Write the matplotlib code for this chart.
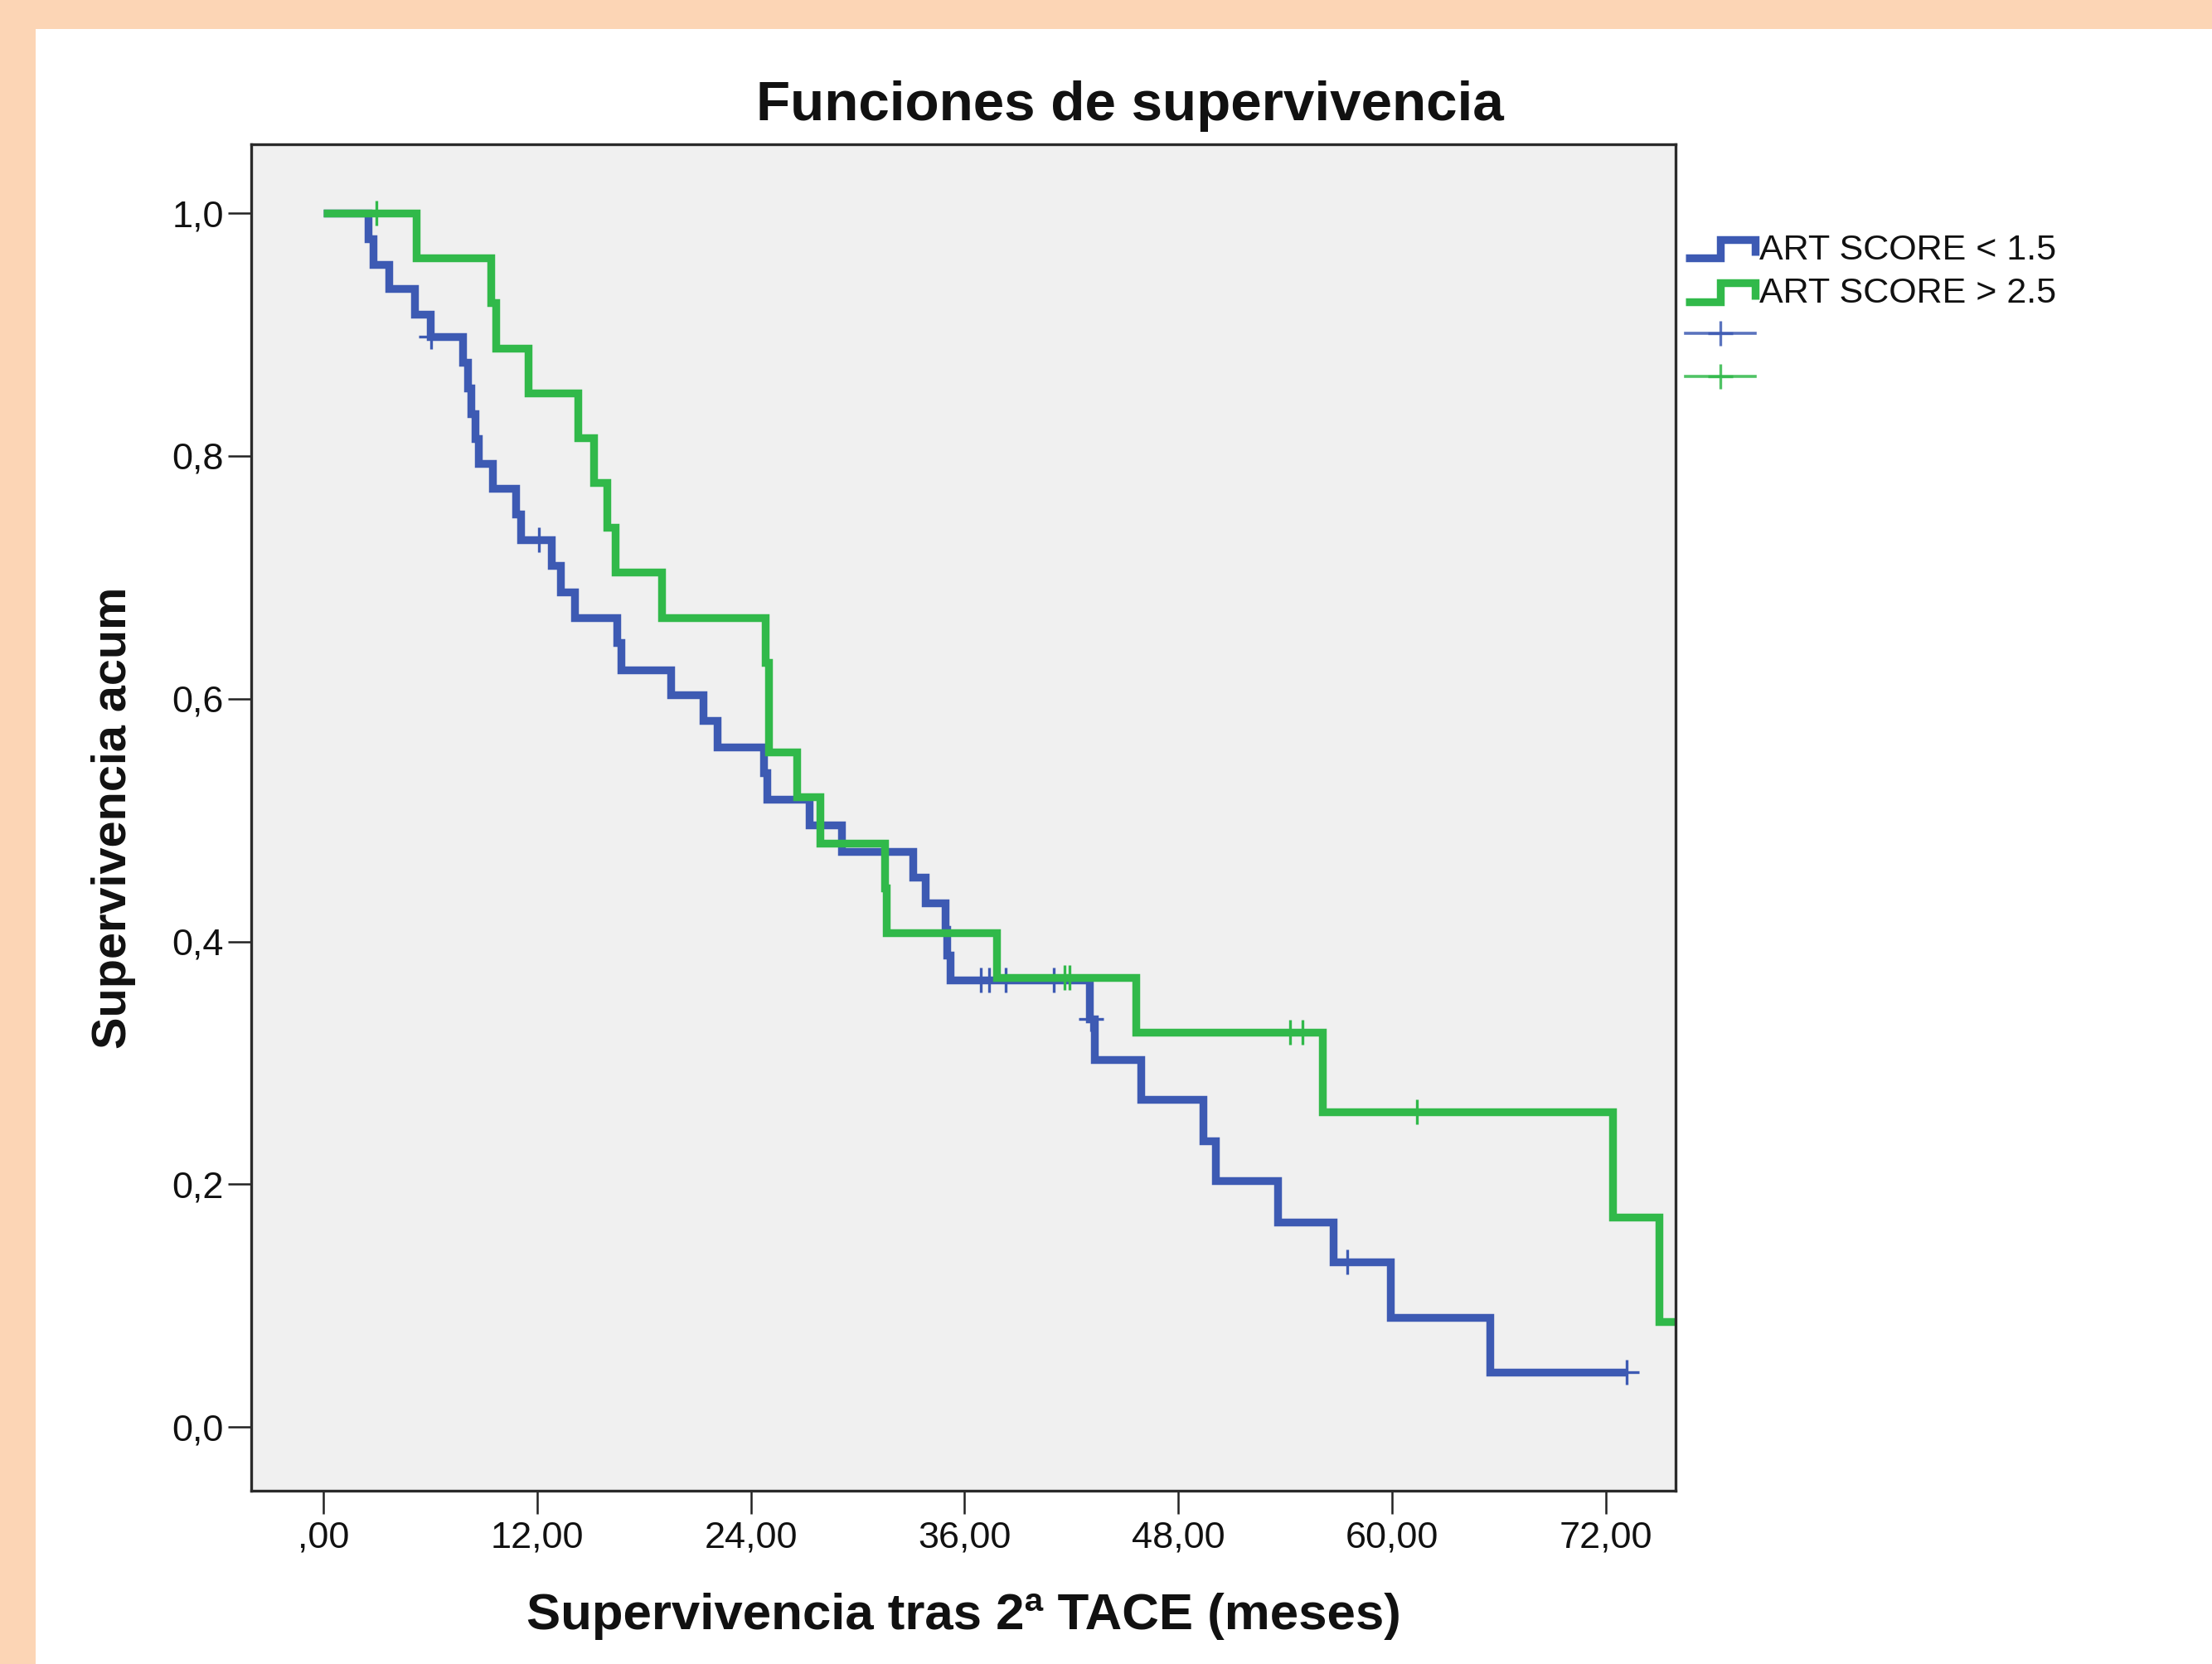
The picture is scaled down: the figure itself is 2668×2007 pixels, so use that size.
import numpy as np
import matplotlib
matplotlib.use("Agg")
import matplotlib.pyplot as plt
from matplotlib.lines import Line2D
from matplotlib.patches import Rectangle
from matplotlib.legend_handler import HandlerBase

plt.rcParams['font.family'] = ['Liberation Sans', 'DejaVu Sans']

# ---------------- data ----------------
title = "Funciones de supervivencia"
xlabel = "Supervivencia tras 2ª TACE (meses)"
ylabel = "Supervivencia acum"
group_labels = ["ART SCORE < 1.5", "ART SCORE > 2.5"]

x_ticks = [0, 12, 24, 36, 48, 60, 72]
x_tick_labels = [",00", "12,00", "24,00", "36,00", "48,00", "60,00", "72,00"]
y_ticks = [0.0, 0.2, 0.4, 0.6, 0.8, 1.0]
y_tick_labels = ["0,0", "0,2", "0,4", "0,6", "0,8", "1,0"]

blue_times = [0, 2.5, 2.8, 3.7, 5.1, 6.0, 7.8, 8.1, 8.3, 8.5, 8.7, 9.5, 10.8,
              11.1, 12.8, 13.3, 14.1, 16.5, 16.7, 19.5, 21.3, 22.1, 24.7,
              24.9, 27.3, 29.1, 33.1, 33.8, 34.9, 35.0, 35.2, 43.0, 43.3,
              45.9, 49.4, 50.1, 53.6, 56.7, 59.9, 65.5]
blue_surv = [1.0, 0.979, 0.958, 0.938, 0.917, 0.898, 0.877, 0.856, 0.835,
             0.814, 0.794, 0.773, 0.752, 0.731, 0.710, 0.688, 0.667, 0.646,
             0.624, 0.603, 0.582, 0.560, 0.539, 0.517, 0.496, 0.474, 0.453,
             0.432, 0.410, 0.389, 0.368, 0.336, 0.303, 0.270, 0.236, 0.203,
             0.169, 0.136, 0.090, 0.045]
blue_end = 73.2
blue_censor = [6.05, 12.1, 36.9, 37.4, 38.3, 41.0, 43.1, 57.5, 73.2]

green_times = [0, 5.2, 9.4, 9.7, 11.5, 14.3, 15.2, 15.9, 16.4, 19.0, 24.8,
               25.0, 26.6, 27.9, 31.5, 31.6, 37.8, 45.6, 56.1, 72.4, 75.0]
green_surv = [1.0, 0.963, 0.926, 0.889, 0.852, 0.815, 0.778, 0.741, 0.704,
              0.667, 0.630, 0.556, 0.519, 0.481, 0.444, 0.407, 0.370, 0.325,
              0.260, 0.173, 0.087]
green_end = 77.0
green_censor = [3.0, 41.6, 41.9, 54.3, 55.0, 61.4]

# ---------------- styling ----------------
BLUE = "#3D5AB3"
GREEN = "#31B94A"
PEACH = "#FCD5B5"
LW = 6.8

W, H = 2668, 2007
fig = plt.figure(figsize=(W / 100, H / 100), dpi=100, facecolor="white")

# peach frame (left and top strips)
fig.patches.append(Rectangle((0, 0), 43 / W, 1, transform=fig.transFigure,
                             facecolor=PEACH, edgecolor="none", zorder=-10))
fig.patches.append(Rectangle((0, 1 - 35 / H), 1, 35 / H, transform=fig.transFigure,
                             facecolor=PEACH, edgecolor="none", zorder=-10))

ax = fig.add_axes([303 / W, 1 - 1798 / H, (2021 - 303) / W, (1798 - 174) / H])
ax.set_facecolor("#F0F0F0")
ax.set_xlim(-4.05, 75.93)
ax.set_ylim(-0.0525, 1.0568)

def draw_curve(times, surv, end, censor, color):
    t = list(times) + [end]
    s = list(surv) + [surv[-1]]
    ax.step(t, s, where="post", color=color, lw=LW, solid_joinstyle="miter",
            solid_capstyle="butt")
    tt = np.asarray(times)
    ss = np.asarray(surv)
    idx = np.searchsorted(tt, np.asarray(censor), side="right") - 1
    ax.plot(censor, ss[idx], linestyle="none", marker="+", markersize=22,
            markeredgewidth=2.4, color=color)

draw_curve(blue_times, blue_surv, blue_end, blue_censor, BLUE)
draw_curve(green_times, green_surv, green_end, green_censor, GREEN)

ax.set_xticks(x_ticks)
ax.set_xticklabels(x_tick_labels)
ax.set_yticks(y_ticks)
ax.set_yticklabels(y_tick_labels)
ax.tick_params(axis="both", direction="out", length=20, width=1.8,
               color="#222222", labelsize=32.5, labelcolor="#111111")
ax.tick_params(axis="x", pad=6)
ax.tick_params(axis="y", pad=4)
for sp in ax.spines.values():
    sp.set_linewidth(2.4)
    sp.set_color("#2a2a2a")

fig.text(1363 / W, 1 - 128 / H, title, ha="center", va="center",
         fontsize=48.5, fontweight="bold", color="#111111")
ax.set_xlabel(xlabel, fontsize=44.5, fontweight="bold", color="#111111")
ax.xaxis.set_label_coords(0.5, -(1950 - 1798) / (1798 - 174))
ax.xaxis.label.set_va("center")
ax.set_ylabel(ylabel, fontsize=41.5, fontweight="bold", color="#111111")
ax.yaxis.set_label_coords(-(303 - 137) / (2021 - 303), 0.5)
ax.yaxis.label.set_va("center")

# ---------------- legend ----------------
class StepHandler(HandlerBase):
    def create_artists(self, legend, orig_handle, xdescent, ydescent, width,
                       height, fontsize, trans):
        xs = [-xdescent + f * width for f in (0.0, 0.5, 0.5, 1.0, 1.0)]
        ys = [-ydescent + f * height for f in (0.05, 0.05, 0.8, 0.8, 0.15)]
        ln = Line2D(xs, ys, color=orig_handle.get_color(),
                    lw=orig_handle.get_linewidth(), solid_joinstyle="miter",
                    solid_capstyle="butt")
        ln.set_transform(trans)
        return [ln]

h_blue = Line2D([], [], color=BLUE, lw=LW)
h_green = Line2D([], [], color=GREEN, lw=LW)
h_bc = Line2D([], [], color=BLUE, lw=2.6, alpha=0.85, marker="+",
              markersize=22, markeredgewidth=2.4)
h_gc = Line2D([], [], color=GREEN, lw=2.6, alpha=0.85, marker="+",
              markersize=22, markeredgewidth=2.4)

leg = fig.legend([h_blue, h_green, h_bc, h_gc],
                 [group_labels[0], group_labels[1], "", ""],
                 handler_map={h_blue: StepHandler(), h_green: StepHandler()},
                 loc="upper left", bbox_to_anchor=(2033 / W, 1 - 282 / H),
                 frameon=False, fontsize=31, handlelength=1.95,
                 handletextpad=0.12, labelspacing=0.28, borderpad=0,
                 borderaxespad=0, numpoints=1)
for t in leg.get_texts():
    t.set_color("#111111")

fig.savefig("out.png", dpi=100, facecolor="white")
